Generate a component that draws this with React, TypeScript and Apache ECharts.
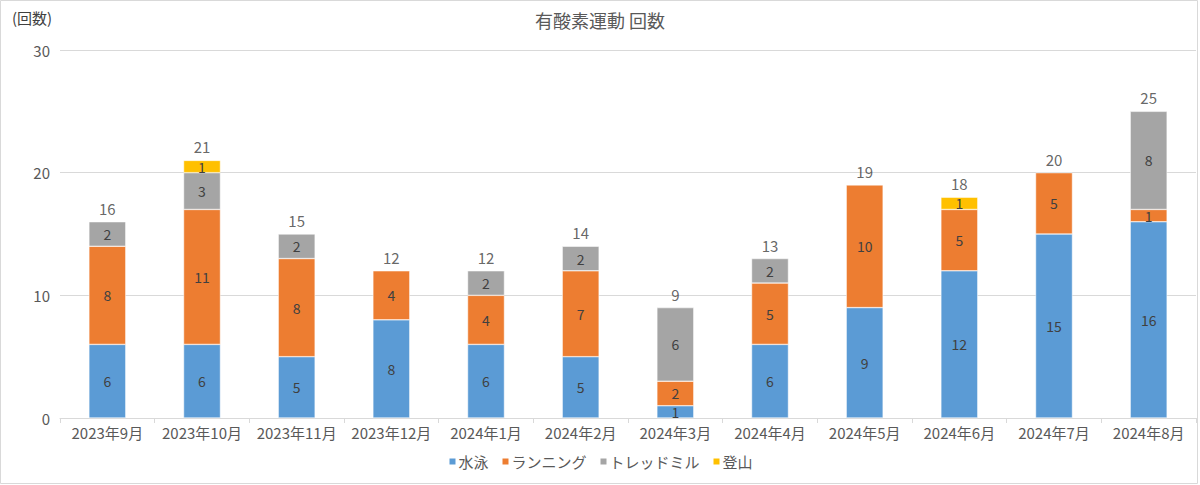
import React, { useEffect, useRef } from "react";
import * as echarts from "echarts";

const categories = ["2023年9月", "2023年10月", "2023年11月", "2023年12月", "2024年1月", "2024年2月", "2024年3月", "2024年4月", "2024年5月", "2024年6月", "2024年7月", "2024年8月"];
const swimming = [6, 6, 5, 8, 6, 5, 1, 6, 9, 12, 15, 16];
const running = [8, 11, 8, 4, 4, 7, 2, 5, 10, 5, 5, 1];
const treadmill = [2, 3, 2, null, 2, 2, 6, 2, null, null, null, 8];
const hiking = [null, 1, null, null, null, null, null, null, null, 1, null, null];
const seriesNames = ["水泳", "ランニング", "トレッドミル", "登山"];
const colors = ["#5B9BD5", "#ED7D31", "#A5A5A5", "#FFC000"];
const yTicks = [0, 10, 20, 30];

const FONT = "'Noto Sans CJK JP', 'Noto Sans', sans-serif";

export default function App() {
  const ref = useRef<HTMLDivElement>(null);
  useEffect(() => {
    document.body.style.margin = "0";
    if (!ref.current) return;
    const chart = echarts.init(ref.current, null, { renderer: "svg" });
    const all = [swimming, running, treadmill, hiking];
    const totals = categories.map((_, i) => all.reduce((s, a) => s + (a[i] ?? 0), 0));
    const segLabel = {
      show: true,
      position: "inside",
      color: "#404040",
      fontSize: 14,
      fontFamily: FONT,
    };
    chart.setOption({
      animation: false,
      backgroundColor: "#fff",
      textStyle: { fontFamily: FONT },
      title: {
        text: "有酸素運動 回数",
        left: "center",
        top: 6,
        textStyle: { color: "#595959", fontSize: 18, fontWeight: "normal", fontFamily: FONT },
      },
      graphic: [
        {
          type: "rect",
          shape: { x: 0.5, y: 0.5, width: 1197, height: 483 },
          style: { fill: "none", stroke: "#D9D9D9", lineWidth: 1 },
          silent: true,
        },
        {
          type: "text",
          left: 12,
          top: 10,
          style: { text: "(回数)", fill: "#404040", fontSize: 15, fontFamily: FONT },
        },
      ],
      legend: {
        data: seriesNames,
        bottom: 11,
        left: "center",
        itemWidth: 8,
        itemHeight: 8,
        itemGap: 12,
        icon: "rect",
        textStyle: { color: "#595959", fontSize: 15, fontFamily: FONT, padding: [0, 0, 0, -3] },
      },
      grid: { left: 60, right: 4, top: 50, bottom: 67 },
      xAxis: {
        type: "category",
        data: categories,
        axisLine: { lineStyle: { color: "#D9D9D9" } },
        axisTick: { show: true, length: 5, lineStyle: { color: "#D9D9D9" } },
        axisLabel: { color: "#595959", fontSize: 15, margin: 7, interval: 0, fontFamily: FONT },
      },
      yAxis: {
        type: "value",
        min: yTicks[0],
        max: yTicks[yTicks.length - 1],
        interval: 10,
        axisLine: { show: false },
        axisTick: { show: false },
        splitLine: { lineStyle: { color: "#D9D9D9" } },
        axisLabel: { color: "#595959", fontSize: 15, margin: 10, fontFamily: FONT },
      },
      series: [
        ...all.map((d, k) => ({
          name: seriesNames[k],
          type: "bar",
          stack: "total",
          barWidth: "39%",
          data: d,
          itemStyle: { color: colors[k], borderColor: "#fff", borderWidth: 0.5 },
          label: segLabel,
        })),
        {
          name: "合計",
          type: "scatter",
          data: totals,
          symbolSize: 0,
          itemStyle: { color: "transparent" },
          label: {
            show: true,
            position: "top",
            distance: 6,
            color: "#404040",
            fontSize: 15,
            fontFamily: FONT,
            formatter: (p: any) => String(p.value),
          },
          silent: true,
        },
      ],
    });
    return () => chart.dispose();
  }, []);
  return <div ref={ref} style={{ width: 1200, height: 485, position: "absolute", left: 0, top: 0 }} />;
}
